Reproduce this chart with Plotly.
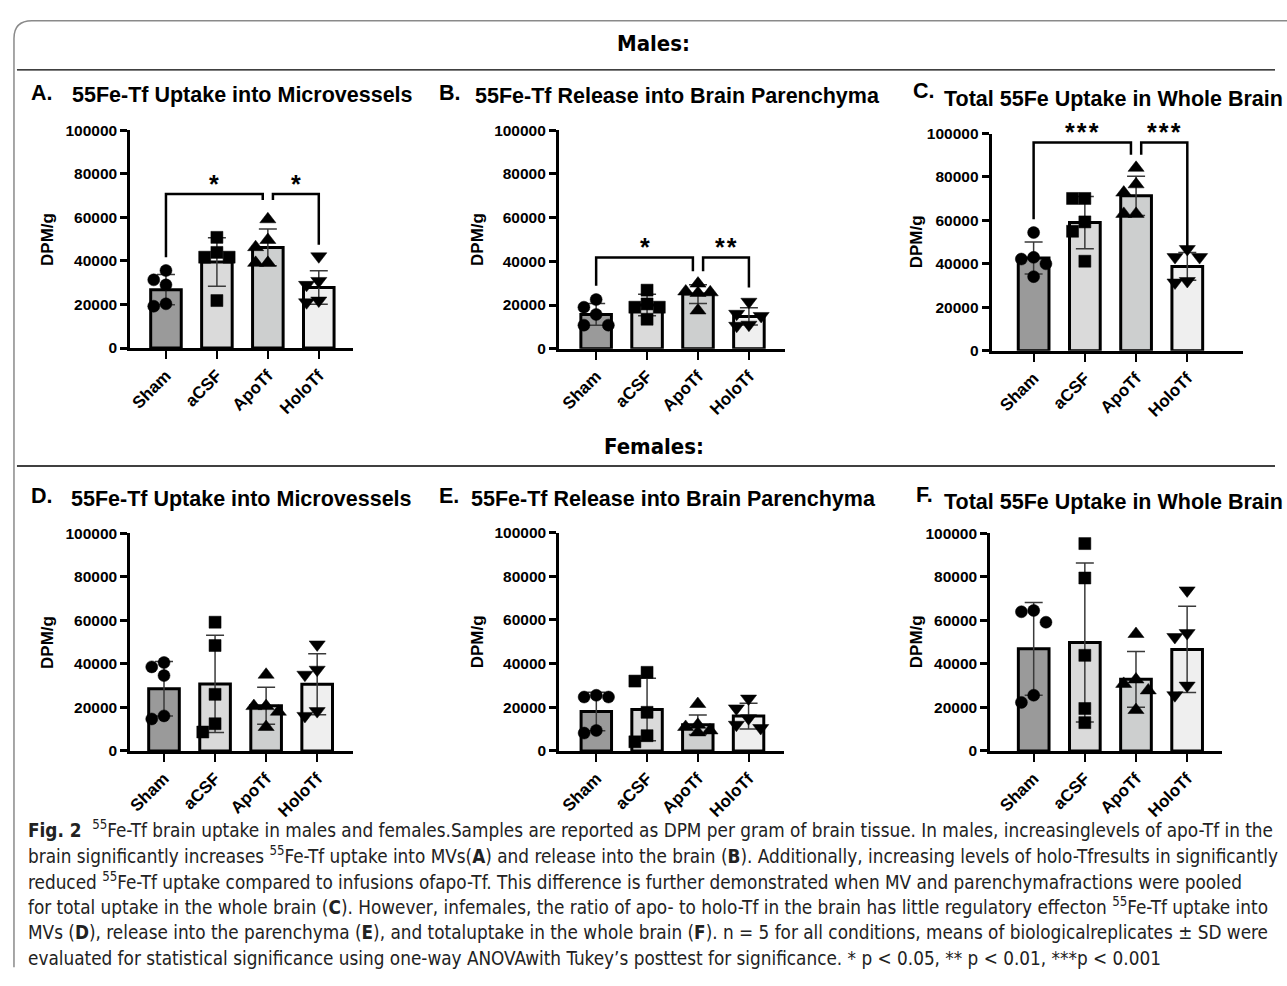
import numpy as np
import plotly.graph_objects as go

# ---------------- data (DPM per gram) ----------------
GROUPS = ["Sham", "aCSF", "ApoTf", "HoloTf"]

# Males
A_SHAM = [35600, 31300, 29000, 20300, 19200]
A_ACSF = [50800, 43900, 41700, 41700, 21800]
A_APO = [59100, 49600, 46300, 39100, 39100]
A_HOLO = [42100, 30800, 29000, 21800, 21000]
A_MEAN = [26800, 39500, 46200, 27800]
A_SD = [6900, 11100, 8400, 7700]

B_SHAM = [22500, 19000, 15700, 10800, 10800]
B_ACSF = [26800, 20500, 19000, 19000, 13500]
B_APO = [29800, 26200, 25800, 25500, 17500]
B_HOLO = [21500, 16000, 15000, 11000, 10500]
B_MEAN = [15700, 20000, 25000, 14800]
B_SD = [5000, 4900, 4300, 3900]

C_SHAM = [54400, 43000, 42200, 40000, 34100]
C_ACSF = [70100, 70100, 59300, 55000, 41200]
C_APO = [84200, 76600, 72800, 63000, 63000]
C_HOLO = [46800, 43100, 43100, 32100, 31400]
C_MEAN = [42700, 59000, 71300, 38800]
C_SD = [7400, 12000, 9000, 6400]

# Females
D_SHAM = [40600, 38600, 34600, 16100, 14700]
D_ACSF = [59100, 48400, 26000, 12500, 8700]
D_APO = [35000, 20600, 20600, 18000, 11000]
D_HOLO = [48900, 37300, 35000, 18300, 16100]
D_MEAN = [28600, 30800, 20800, 30600]
D_SD = [12500, 22300, 8500, 14000]

E_SHAM = [25500, 24700, 24700, 9400, 8200]
E_ACSF = [36000, 32000, 17700, 7000, 4200]
E_APO = [21500, 12000, 11000, 9400, 8500]
E_HOLO = [24000, 19500, 15000, 12000, 10500]
E_MEAN = [18100, 19000, 12000, 16000]
E_SD = [8800, 14300, 4500, 5900]

F_SHAM = [64500, 63900, 59100, 25600, 22300]
F_ACSF = [95200, 79400, 43900, 19500, 13000]
F_APO = [53700, 32800, 30800, 27800, 18800]
F_HOLO = [73700, 54100, 52300, 30000, 25600]
F_MEAN = [46900, 49800, 32900, 46600]
F_SD = [21300, 36500, 12800, 19800]

# significance: (panel, group i, group j, bracket level, left leg end, right leg end, label)
SIG = [
    ("A", 0, 2, 70700, 41700, 68000, "*"),
    ("A", 2, 3, 70700, 68000, 47400, "*"),
    ("B", 0, 2, 41800, 28800, 35500, "*"),
    ("B", 2, 3, 41800, 35500, 28000, "**"),
    ("C", 0, 2, 95900, 60500, 90200, "***"),
    ("C", 2, 3, 95900, 90200, 48000, "***"),
]

Y_TICKS = [0, 20000, 40000, 60000, 80000, 100000]

TITLES = {
    "A": "55Fe-Tf Uptake into Microvessels",
    "B": "55Fe-Tf Release into Brain Parenchyma",
    "C": "Total 55Fe Uptake in Whole Brain",
    "D": "55Fe-Tf Uptake into Microvessels",
    "E": "55Fe-Tf Release into Brain Parenchyma",
    "F": "Total 55Fe Uptake in Whole Brain",
}

CAPTION = [
    "<b>Fig. 2</b>  <sup>55</sup>Fe-Tf brain uptake in males and females.Samples are reported as DPM per gram of brain tissue. In males, increasinglevels of apo-Tf in the",
    "brain significantly increases <sup>55</sup>Fe-Tf uptake into MVs(<b>A</b>) and release into the brain (<b>B</b>). Additionally, increasing levels of holo-Tfresults in significantly",
    "reduced <sup>55</sup>Fe-Tf uptake compared to infusions ofapo-Tf. This difference is further demonstrated when MV and parenchymafractions were pooled",
    "for total uptake in the whole brain (<b>C</b>). However, infemales, the ratio of apo- to holo-Tf in the brain has little regulatory effecton <sup>55</sup>Fe-Tf uptake into",
    "MVs (<b>D</b>), release into the parenchyma (<b>E</b>), and totaluptake in the whole brain (<b>F</b>). n = 5 for all conditions, means of biologicalreplicates ± SD were",
    "evaluated for statistical significance using one-way ANOVAwith Tukey’s posttest for significance. * p < 0.05, ** p < 0.01, ***p < 0.001",
]

PANEL_DATA = {
    "A": ([A_SHAM, A_ACSF, A_APO, A_HOLO], A_MEAN, A_SD),
    "B": ([B_SHAM, B_ACSF, B_APO, B_HOLO], B_MEAN, B_SD),
    "C": ([C_SHAM, C_ACSF, C_APO, C_HOLO], C_MEAN, C_SD),
    "D": ([D_SHAM, D_ACSF, D_APO, D_HOLO], D_MEAN, D_SD),
    "E": ([E_SHAM, E_ACSF, E_APO, E_HOLO], E_MEAN, E_SD),
    "F": ([F_SHAM, F_ACSF, F_APO, F_HOLO], F_MEAN, F_SD),
}

# ---------------- layout / style ----------------
W, H = 1287, 986
def px(x):
    return x / W
def py(y):
    return 1 - y / H

# pixel boxes of each plotting area: left, right, bottom, top, x-range
PANELS = {
    "A": dict(l=126.7, r=350.0, b=345.0, t=123.3, xr=(-0.70, 3.67)),
    "B": dict(l=556.7, r=783.0, b=345.7, t=123.3, xr=(-0.73, 3.70)),
    "C": dict(l=990.7, r=1243.0, b=347.7, t=126.7, xr=(-0.82, 4.09)),
    "D": dict(l=126.7, r=350.0, b=755.0, t=533.3, xr=(-0.66, 3.70)),
    "E": dict(l=557.0, r=782.0, b=755.0, t=532.7, xr=(-0.73, 3.69)),
    "F": dict(l=989.3, r=1221.7, b=755.0, t=533.3, xr=(-0.85, 3.68)),
}
LETTER_POS = {"A": (25, 85), "B": (434, 85), "C": (910, 83),
              "D": (25, 496), "E": (434, 496), "F": (913, 495)}
TITLE_POS = {"A": (66, 88), "B": (470, 89), "C": (941, 92),
             "D": (65, 499), "E": (466, 499), "F": (941, 502)}
YTITLE_X = {"A": 43, "B": 475, "C": 915, "D": 43, "E": 475, "F": 915}

BAR_COLORS = ["#9a9a9a", "#dadada", "#cdcfcf", "#efefef"]
SYMBOLS = ["circle", "square", "triangle-up", "triangle-down"]
SIZES = [12, 12, 14, 14]
FONT = "Liberation Sans, Arial, sans-serif"
CAP_FONT = "Liberation Sans Narrow, DejaVu Sans Condensed, Open Sans, sans-serif"


def swarm(values, xpx, ypx, diam=12.5, step=0.24):
    """Simple beeswarm: place points (largest first) at the least crowded offset."""
    order = np.argsort(values)[::-1]
    placed = []
    offs = np.zeros(len(values))
    cands = [0, -step, step]
    for i in order:
        best, bestd = 0, -1
        for c in cands:
            md = 1e9
            for (ox, oy) in placed:
                dx = (c - ox) * xpx
                dy = (values[i] - oy) * ypx
                md = min(md, (dx * dx + dy * dy) ** 0.5)
            if md >= diam:
                best = c
                bestd = md
                break
            if md > bestd:
                best, bestd = c, md
        offs[i] = best
        placed.append((best, values[i]))
    return offs


fig = go.Figure()
layout = dict(
    width=W, height=H, margin=dict(l=0, r=0, t=0, b=0),
    paper_bgcolor="white", plot_bgcolor="white", showlegend=False,
    font=dict(family=FONT, color="black"),
)
annotations = []
shapes = []

for k, key in enumerate(["A", "B", "C", "D", "E", "F"]):
    P = PANELS[key]
    n = "" if k == 0 else str(k + 1)
    xa, ya = "x" + n, "y" + n
    pts, means, sds = PANEL_DATA[key]
    xpx = (P["r"] - P["l"]) / (P["xr"][1] - P["xr"][0])
    ypx = (P["b"] - P["t"]) / 100000.0

    fig.add_trace(go.Bar(
        x=list(range(4)), y=means, width=0.6,
        marker=dict(color=BAR_COLORS, line=dict(color="black", width=3)),
        error_y=dict(type="data", array=sds, visible=True, color="#3a3a3a",
                     thickness=1.5, width=9),
        xaxis=xa, yaxis=ya, hoverinfo="skip",
    ))
    xs, ys, syms, szs = [], [], [], []
    for g in range(4):
        offs = swarm(pts[g], xpx, ypx)
        for v, o in zip(pts[g], offs):
            xs.append(g + o)
            ys.append(v)
            syms.append(SYMBOLS[g])
            szs.append(SIZES[g])
    fig.add_trace(go.Scatter(
        x=xs, y=ys, mode="markers", cliponaxis=False,
        marker=dict(symbol=syms, size=szs, color="#000000", opacity=1,
                    line=dict(width=0.5, color="#000000")),
        xaxis=xa, yaxis=ya, hoverinfo="skip",
    ))

    layout["xaxis" + n] = dict(
        domain=[px(P["l"]), px(P["r"])], range=list(P["xr"]), anchor=ya,
        tickvals=list(range(4)), ticktext=GROUPS, tickangle=-45,
        tickfont=dict(size=17, family=FONT, weight="bold"),
        showline=True, linewidth=3, linecolor="black",
        ticks="outside", ticklen=8, tickwidth=2, tickcolor="black",
        showgrid=False, zeroline=False, fixedrange=True,
    )
    layout["yaxis" + n] = dict(
        domain=[py(P["b"]), py(P["t"])], range=[0, 100000], anchor=xa,
        tickvals=Y_TICKS, ticktext=[str(v) for v in Y_TICKS],
        tickfont=dict(size=15.5, family=FONT, weight="bold"),
        showline=True, linewidth=3, linecolor="black",
        ticks="outside", ticklen=7, tickwidth=2.5, tickcolor="black",
        showgrid=False, zeroline=False, fixedrange=True,
    )

    lx, ly = LETTER_POS[key]
    annotations.append(dict(text="<b>%s.</b>" % key, x=px(lx), y=py(ly), xref="paper", yref="paper",
                            xanchor="left", yanchor="middle", showarrow=False,
                            font=dict(size=21.5, family=FONT)))
    tx, ty = TITLE_POS[key]
    annotations.append(dict(text="<b>%s</b>" % TITLES[key], x=px(tx), y=py(ty), xref="paper", yref="paper",
                            xanchor="left", yanchor="middle", showarrow=False,
                            font=dict(size=21.5, family=FONT)))
    annotations.append(dict(text="<b>DPM/g</b>", x=px(YTITLE_X[key]), y=py((P["b"] + P["t"]) / 2),
                            xref="paper", yref="paper", xanchor="center", yanchor="middle",
                            textangle=-90, showarrow=False, font=dict(size=17, family=FONT)))

# significance brackets
for (key, i, j, lev, yl, yr, lab) in SIG:
    k = "ABCDEF".index(key)
    n = "" if k == 0 else str(k + 1)
    xi = i + (0.1 if i == 2 else 0)
    xj = j - (0.1 if j == 2 else 0)
    shapes.append(dict(type="path", xref="x" + n, yref="y" + n,
                       path="M %f,%f L %f,%f L %f,%f L %f,%f" % (xi, yl, xi, lev, xj, lev, xj, yr),
                       line=dict(color="black", width=2.5)))
    annotations.append(dict(text="<b>%s</b>" % "\u200a".join(lab), x=(xi + xj) / 2, y=lev,
                            xref="x" + n, yref="y" + n, xanchor="center", yanchor="bottom",
                            yshift=-6, showarrow=False, font=dict(size=25, family=FONT)))

# section headers and rules
annotations.append(dict(text="<b>Males:</b>", x=px(652), y=py(35), xref="paper", yref="paper",
                        xanchor="center", yanchor="middle", showarrow=False,
                        font=dict(size=22, family=CAP_FONT)))
annotations.append(dict(text="<b>Females:</b>", x=px(652), y=py(445), xref="paper", yref="paper",
                        xanchor="center", yanchor="middle", showarrow=False,
                        font=dict(size=22, family=CAP_FONT)))
for yy in (62, 465):
    shapes.append(dict(type="line", xref="paper", yref="paper", x0=px(13), x1=px(1275),
                       y0=py(yy), y1=py(yy), line=dict(color="black", width=1.3)))

# outer frame (rounded corner, open to right/bottom)
shapes.append(dict(type="path", xref="paper", yref="paper",
                   path="M %f,%f L %f,%f Q %f,%f %f,%f L %f,%f" % (
                       px(10), py(975), px(10), py(30), px(10), py(12), px(28), py(12), px(1290), py(12)),
                   line=dict(color="#8a8a8a", width=1.5)))

# caption
for li, line in enumerate(CAPTION):
    annotations.append(dict(text=line, x=px(22), y=py(834 + 26.4 * li), xref="paper", yref="paper",
                            xanchor="left", yanchor="middle", showarrow=False,
                            font=dict(size=18.8, family=CAP_FONT, color="#222")))

layout["annotations"] = annotations
layout["shapes"] = shapes
fig.update_layout(**layout)
fig.write_html("out.html", config={"displayModeBar": False},
               post_script="document.body.style.margin='0';document.body.style.overflow='hidden';")
